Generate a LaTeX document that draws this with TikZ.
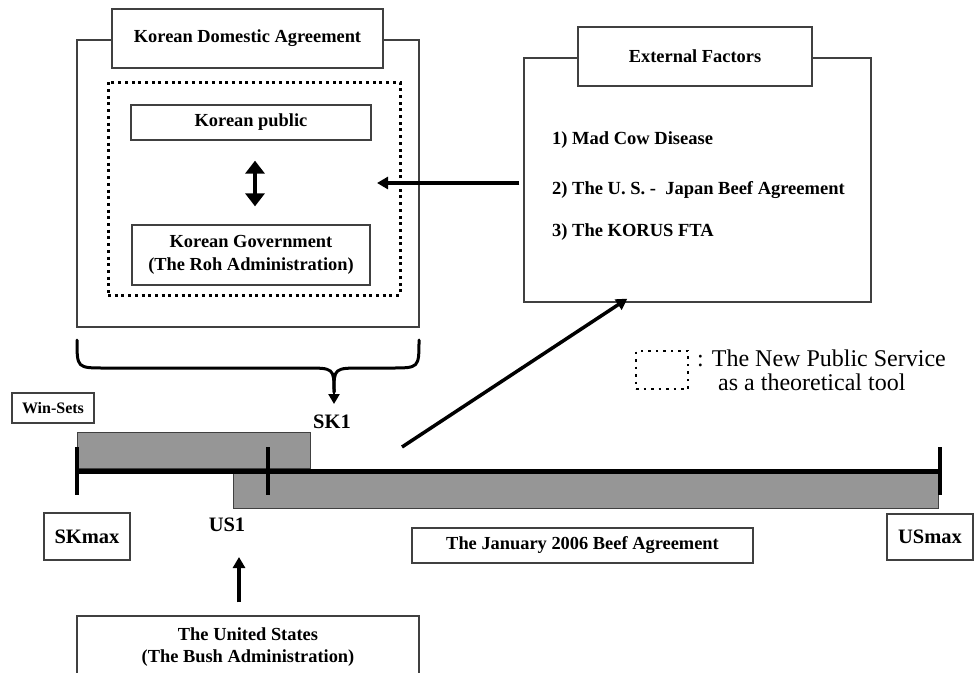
\documentclass[tikz,border=0pt]{standalone}
\usepackage{fontspec}
\setmainfont{Liberation Serif}
\usetikzlibrary{arrows.meta}
\begin{document}
\begin{tikzpicture}[x=1pt,y=-1pt,
  frame/.style={draw=black!75, line width=1.3pt, rectangle, inner sep=0pt},
  box/.style={frame, fill=white, align=center, font=\fontsize{18.4}{22.5}\selectfont\bfseries},
  npsbox/.style={draw, line width=3pt, dash pattern=on 3pt off 3.7pt, inner sep=0pt},
  item/.style={inner sep=0pt, font=\fontsize{18.5}{20}\selectfont\bfseries},
  big/.style={inner sep=0pt, font=\fontsize{20.5}{24}\selectfont\bfseries},
  legend/.style={inner sep=0pt, align=left, font=\fontsize{24}{24}\selectfont},
  bar/.style={draw=black!75, line width=1pt, fill=black!41},
  tick/.style={line width=4pt},
  arr/.style={line width=3.5pt, -{Triangle[length=11pt,width=12pt]}},
  dbl/.style={line width=3.5pt, {Triangle[length=13pt,width=19pt]}-{Triangle[length=13pt,width=19pt]}},
  brace/.style={line width=3pt, line cap=round}]
\useasboundingbox (0,0) rectangle (974,672);

% Korean domestic side
\node[frame, minimum width=342pt, minimum height=287pt] (domestic) at (248,183.5) {};
\node[box, minimum width=271pt, minimum height=59pt] (domtitle) at (247.5,38.5) {Korean Domestic Agreement};
\node[npsbox, minimum width=292pt, minimum height=213pt] (nps) at (254,188.5) {};
\node[box, minimum width=240pt, minimum height=35pt] (public) at (251,122.5) {Korean public};
\node[box, minimum width=238pt, minimum height=60pt] (gov) at (251,255) {Korean Government\\(The Roh Administration)};
\draw[dbl, shorten <=20pt, shorten >=18pt] ([xshift=4pt]public.south) -- ([xshift=4pt]gov.north);

% external factors
\node[frame, minimum width=347pt, minimum height=244pt] (external) at (697.5,180) {};
\node[box, minimum width=234pt, minimum height=59pt] (exttitle) at (695,56.5) {External Factors};
\node[item, anchor=west] (mad) at (552,140) {1) Mad Cow Disease};
\node[item, anchor=west] (japan) at (552,190) {2) The U. S. -\ \ Japan Beef Agreement};
\node[item, anchor=west] (korus) at (552,232) {3) The KORUS FTA};
\coordinate (extin) at (377,183);
\draw[arr] (external.west |- extin) ++(-4,0) -- (extin);

% brace under the domestic box
\coordinate (bracel) at (77,340);
\coordinate (bracer) at (419,340);
\coordinate (bracetip) at (334,404);
\draw[brace] (bracel) .. controls (77,368) .. (105,368) -- (305,368) .. controls (334,368) .. (334,392);
\draw[brace] (bracer) .. controls (419,368) .. (391,368) -- (363,368) .. controls (334,368) .. (334,392);
\draw[line width=2.5pt, -{Triangle[length=10pt,width=11pt]}] (334,390) -- (bracetip);

% legend
\node[npsbox, line width=2.5pt, dash pattern=on 2.5pt off 5pt, minimum width=52pt, minimum height=38pt] (legbox) at (662,370) {};
\node[legend, anchor=base west] (legtext) at (697,390) {: The New Public Service\\\hspace*{21pt}as a theoretical tool};

% win-sets
\node[frame, minimum width=82pt, minimum height=30pt, font=\fontsize{16}{18}\selectfont\bfseries] (winsets) at (53,408) {Win-Sets};
\node[big] (sk1) at (332,422) {SK1};
\node[bar, minimum width=233pt, minimum height=36pt, inner sep=0pt] (skbar) at (193.5,450) {};
\node[bar, minimum width=705pt, minimum height=35pt, inner sep=0pt] (usbar) at (585.5,490.5) {};
\coordinate (skmaxpt) at (77,471);
\coordinate (us1pt) at (268,471);
\coordinate (usmaxpt) at (940,471);
\draw[line width=5pt] (skmaxpt) -- (usmaxpt);
\foreach \p in {skmaxpt,us1pt,usmaxpt}
  \draw[tick] ([yshift=24pt]\p) -- ([yshift=-24pt]\p);
\coordinate (linefoot) at (402,447);
\draw[arr] (linefoot) -- ([shift={(104,-4)}]external.south west);

% labels under the line
\node[frame, minimum width=86pt, minimum height=47pt, font=\fontsize{20.5}{24}\selectfont\bfseries] (skmax) at (87,536.5) {SKmax};
\node[big] (us1) at (227,525) {US1};
\node[frame, minimum width=86pt, minimum height=46pt, font=\fontsize{20.5}{24}\selectfont\bfseries] (usmax) at (930,537) {USmax};
\node[box, minimum width=341pt, minimum height=35pt] (jan) at (582.5,545.5) {The January 2006 Beef Agreement};

% united states
\node[box, minimum width=342pt, minimum height=62pt] (bush) at (248,647) {The United States\\(The Bush Administration)};
\draw[arr, shorten <=13pt] ([xshift=-9pt]bush.north) -- ([xshift=-9pt]bush.north |- 0,557);
\end{tikzpicture}
\end{document}
